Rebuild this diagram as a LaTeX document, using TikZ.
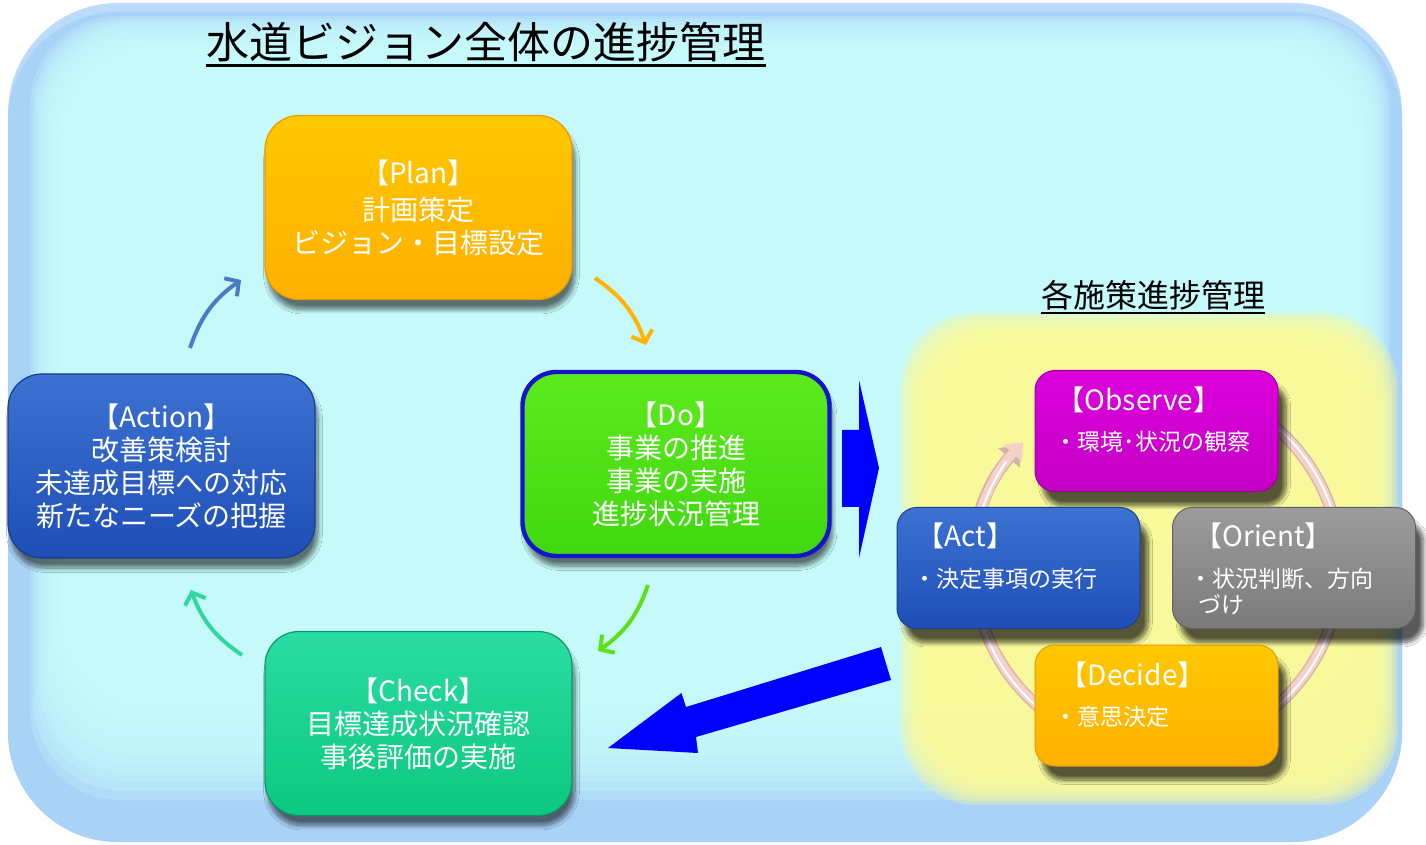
\documentclass[tikz,border=0pt]{standalone}
\usepackage{fontspec}
\setmainfont{Noto Sans CJK JP}
\usetikzlibrary{shadows.blur,arrows.meta}
\definecolor{bgblue}{HTML}{A9D2F7}
\definecolor{cyanbg}{HTML}{C8FCFD}
\definecolor{yellowbg}{HTML}{FAFA9A}
\definecolor{planT}{HTML}{FFC800}
\definecolor{planB}{HTML}{FFB000}
\definecolor{planD}{HTML}{E89A00}
\definecolor{doT}{HTML}{5CEA1C}
\definecolor{doB}{HTML}{40D810}
\definecolor{doD}{HTML}{1414C8}
\definecolor{actT}{HTML}{3C72D2}
\definecolor{actB}{HTML}{1E4EB6}
\definecolor{actD}{HTML}{1A3E90}
\definecolor{chkT}{HTML}{2ADCA2}
\definecolor{chkB}{HTML}{0CC880}
\definecolor{chkD}{HTML}{0A9A68}
\definecolor{obsT}{HTML}{DC00DC}
\definecolor{obsB}{HTML}{C400C4}
\definecolor{oriT}{HTML}{9C9C9C}
\definecolor{oriB}{HTML}{7A7A7A}
\definecolor{ringc}{HTML}{F4D2CA}
\definecolor{ringd}{HTML}{D8B0A8}
\definecolor{arrOr}{HTML}{FFB400}
\definecolor{arrGr}{HTML}{5EE018}
\definecolor{arrTe}{HTML}{30D8A0}
\definecolor{arrBl}{HTML}{4A7AC8}
\definecolor{bigblue}{HTML}{0000FF}
\tikzset{
  mainbox/.style={rounded corners=17pt, minimum width=153.5pt, minimum height=92pt,
    align=center, text=white, font=\fontsize{14}{16.5}\selectfont,
    blur shadow={shadow xshift=1.5pt, shadow yshift=-5pt, shadow blur steps=10, shadow blur extra rounding=3pt, shadow opacity=55}},
  subbox/.style={rounded corners=10pt, minimum width=121.5pt, minimum height=60.5pt,
    blur shadow={shadow xshift=4pt, shadow yshift=-7pt, shadow blur steps=10, shadow blur extra rounding=3pt, shadow opacity=65}},
  head/.style={anchor=west, text=white, font=\fontsize{14}{16}\selectfont, inner sep=0pt},
  bullet/.style={anchor=west, text=white, font=\fontsize{11.5}{13}\selectfont, inner sep=0pt},
  cyc/.style={line width=2pt, -{Straight Barb[length=5pt,width=11pt]}, bend left=18},
}
\begin{document}
\begin{tikzpicture}[x=0.5pt,y=-0.5pt]
\useasboundingbox (0,0) rectangle (1426,845);
\fill[white] (0,0) rectangle (1426,845);
% background
\fill[bgblue!80!white, rounded corners=55pt] (8,3) rectangle (1402,842);
\fill[bgblue, rounded corners=55pt] (8,12) rectangle (1402,842);
\foreach \i in {0,...,11}{
  \fill[cyanbg, opacity=0.25, rounded corners=45pt] (30+3*\i,16+3*\i) rectangle (1390-3*\i,800-9*\i);
}
% yellow panel
\foreach \i in {0,...,9}{
  \fill[yellowbg, opacity=0.3, rounded corners=38pt] (900+3*\i,312+3*\i) rectangle (1398-3*\i,805-3*\i);
}
% titles
\node[font=\fontsize{21.5}{24}\selectfont, inner sep=0pt] (title) at (486,42) {水道ビジョン全体の進捗管理};
\draw[line width=1.2pt] ([yshift=-3.5pt]title.base west) -- ([yshift=-3.5pt]title.base east);
\node[font=\fontsize{16}{18}\selectfont, inner sep=0pt] (sub) at (1153,295) {各施策進捗管理};
\draw[line width=1pt] ([yshift=-3pt]sub.base west) -- ([yshift=-3pt]sub.base east);
% main boxes
\node[mainbox, top color=planT, bottom color=planB, draw=planD, line width=0.6pt] (plan) at (418.5,207.5) {【Plan】\\[2pt]計画策定\\ビジョン・目標設定};
\node[mainbox, top color=doT, bottom color=doB, draw=doD, line width=2.2pt] (do) at (676,464) {【Do】\\事業の推進\\事業の実施\\進捗状況管理};
\node[mainbox, top color=actT, bottom color=actB, draw=actD, line width=0.6pt] (action) at (161.5,466) {【Action】\\改善策検討\\未達成目標への対応\\新たなニーズの把握};
\node[mainbox, top color=chkT, bottom color=chkB, draw=chkD, line width=0.6pt] (check) at (418.5,723.5) {【Check】\\目標達成状況確認\\事後評価の実施};
% cycle arrows
\coordinate (p1) at (595,278); \coordinate (p2) at (646,345);
\coordinate (d1) at (648,585); \coordinate (d2) at (598,651);
\coordinate (c1) at (242,655); \coordinate (c2) at (191,590);
\coordinate (a1) at (190,348); \coordinate (a2) at (241,280);
\draw[cyc, arrOr] (p1) to (p2);
\draw[cyc, arrGr] (d1) to (d2);
\draw[cyc, arrTe] (c1) to (c2);
\draw[cyc, arrBl] (a1) to (a2);
% big arrows
\fill[bigblue] (842,430) -- (859,430) -- (859,380) -- (879,468) -- (859,558) -- (859,507) -- (842,507) -- cycle;
\fill[bigblue] (881,647) -- (686,707) -- (681.5,693) -- (608,748) -- (698,753) -- (696,737) -- (891,680) -- cycle;
% ring
\coordinate (ctr) at (1157,567);
\draw[ringd, line width=6pt, -{Triangle[length=9pt,width=14pt]}] (ctr) ++(125:91.5pt) arc[start angle=125, end angle=-222, radius=91.5pt];
\draw[ringc, line width=4.6pt, -{Triangle[length=7.6pt,width=12pt]}] (ctr) ++(125:91.5pt) arc[start angle=125, end angle=-223, radius=91.5pt];
\draw[white, line width=1pt] (ctr) ++(125:92pt) arc[start angle=125, end angle=-215, radius=92pt];
% OODA boxes
\node[subbox, top color=obsT, bottom color=obsB, draw=obsB!80!black, line width=0.5pt] (obs) at (1156.5,431) {};
\node[head] (obsh) at ([xshift=11pt, yshift=-15pt]obs.north west) {【Observe】};
\node[bullet] (obst) at ([xshift=10pt, yshift=-36pt]obs.north west) {・環境･状況の観察};
\node[subbox, top color=actT, bottom color=actB, draw=actD, line width=0.5pt] (act) at (1018.5,568) {};
\node[head] (acth) at ([xshift=10pt, yshift=-14.5pt]act.north west) {【Act】};
\node[bullet] (actt) at ([xshift=8.5pt, yshift=-36pt]act.north west) {・決定事項の実行};
\node[subbox, top color=oriT, bottom color=oriB, draw=oriB!80!black, line width=0.5pt] (ori) at (1294,568) {};
\node[head] (orih) at ([xshift=11pt, yshift=-14.5pt]ori.north west) {【Orient】};
\node[bullet] (orit) at ([xshift=8.5pt, yshift=-36pt]ori.north west) {・状況判断、方向};
\node[bullet] (orit2) at ([xshift=13pt, yshift=-49pt]ori.north west) {づけ};
\node[subbox, top color=planT, bottom color=planB, draw=planD, line width=0.5pt] (dec) at (1156.5,705.5) {};
\node[head] (dech) at ([xshift=12.5pt, yshift=-15pt]dec.north west) {【Decide】};
\node[bullet] (dect) at ([xshift=10pt, yshift=-36pt]dec.north west) {・意思決定};
\end{tikzpicture}
\end{document}
